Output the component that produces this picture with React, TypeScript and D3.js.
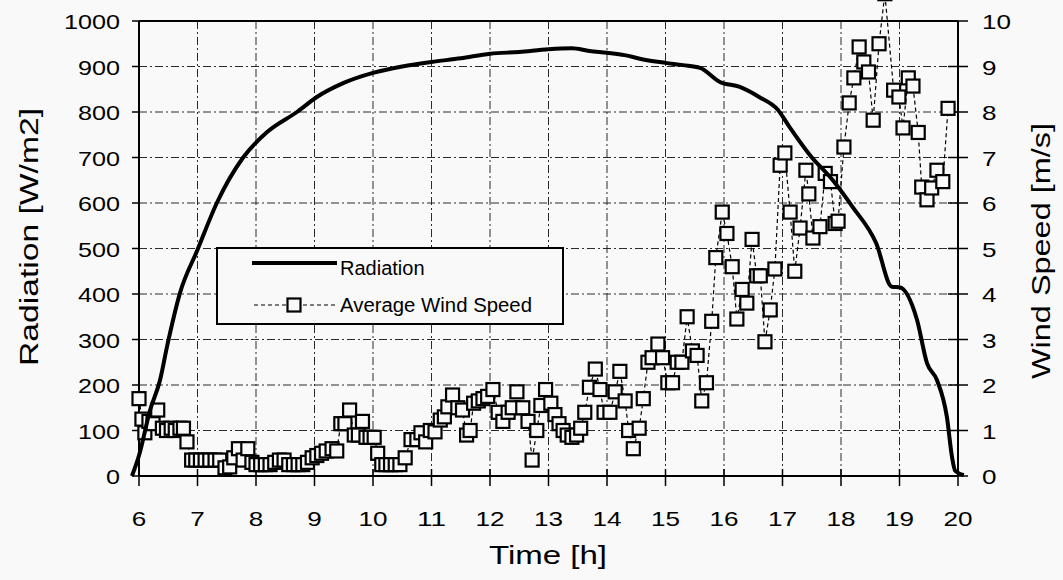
import React from "react";
import * as d3 from "d3";

// ---- Data ----
const radTime = [5.88, 6.0, 6.19, 6.36, 6.48, 6.7, 7.0, 7.33, 7.78, 8.2, 8.7, 9.04, 9.5, 10.0, 10.5, 11.0, 11.5, 12.0, 12.5, 13.0, 13.4, 13.7, 14.0, 14.3, 14.6, 15.0, 15.3, 15.59, 15.93, 16.27, 16.6, 16.92, 17.13, 17.47, 17.86, 18.2, 18.6, 18.87, 19.0, 19.3, 19.47, 19.64, 19.81, 19.9, 19.95, 20.1];
const radValue = [0, 45, 145, 211, 285, 402, 497, 600, 700, 757, 800, 833, 864, 886, 900, 910, 918, 928, 932, 938, 940, 934, 930, 925, 916, 908, 903, 897, 866, 855, 833, 805, 765, 705, 650, 591, 512, 416, 415, 343, 248, 211, 130, 40, 12, 2];

const windTime = [6.0, 6.05, 6.1, 6.17, 6.24, 6.32, 6.4, 6.47, 6.55, 6.62, 6.7, 6.76, 6.82, 6.9, 6.97, 7.05, 7.13, 7.21, 7.3, 7.38, 7.47, 7.55, 7.62, 7.7, 7.78, 7.86, 7.93, 8.0, 8.08, 8.16, 8.24, 8.32, 8.4, 8.48, 8.56, 8.64, 8.72, 8.8, 8.88, 8.96, 9.04, 9.12, 9.2, 9.3, 9.38, 9.45, 9.52, 9.6, 9.68, 9.75, 9.82, 9.88, 9.95, 10.02, 10.08, 10.15, 10.22, 10.3, 10.38, 10.46, 10.55, 10.65, 10.75, 10.82, 10.9, 10.98, 11.06, 11.15, 11.22, 11.28, 11.36, 11.45, 11.53, 11.6, 11.66, 11.72, 11.8, 11.88, 11.96, 12.05, 12.14, 12.22, 12.31, 12.38, 12.46, 12.56, 12.65, 12.72, 12.8, 12.87, 12.95, 13.04, 13.11, 13.18, 13.25, 13.32, 13.4, 13.48, 13.55, 13.62, 13.7, 13.8, 13.88, 13.95, 14.05, 14.14, 14.22, 14.31, 14.37, 14.45, 14.55, 14.62, 14.7, 14.77, 14.87, 14.95, 15.04, 15.12, 15.2, 15.28, 15.37, 15.46, 15.54, 15.62, 15.7, 15.79, 15.86, 15.97, 16.05, 16.14, 16.22, 16.31, 16.39, 16.48, 16.56, 16.62, 16.7, 16.79, 16.87, 16.96, 17.04, 17.13, 17.21, 17.3, 17.4, 17.45, 17.52, 17.64, 17.73, 17.82, 17.9, 17.95, 18.05, 18.14, 18.22, 18.31, 18.39, 18.47, 18.55, 18.65, 18.75, 18.9, 18.99, 19.06, 19.15, 19.23, 19.32, 19.38, 19.47, 19.55, 19.64, 19.74, 19.83];
const windSpeed = [1.7, 1.25, 0.95, 1.2, 1.15, 1.45, 1.05, 1.0, 1.05, 1.0, 1.05, 1.05, 0.75, 0.35, 0.35, 0.35, 0.35, 0.35, 0.35, 0.35, 0.18, 0.2, 0.4, 0.6, 0.35, 0.6, 0.3, 0.25, 0.25, 0.25, 0.25, 0.3, 0.35, 0.35, 0.25, 0.25, 0.25, 0.25, 0.3, 0.4, 0.45, 0.5, 0.55, 0.6, 0.55, 1.15, 1.15, 1.45, 0.9, 0.9, 1.2, 0.85, 0.85, 0.85, 0.5, 0.25, 0.25, 0.25, 0.25, 0.25, 0.4, 0.8, 0.8, 0.95, 0.75, 1.0, 0.97, 1.23, 1.3, 1.52, 1.78, 1.5, 1.45, 0.9, 1.0, 1.6, 1.65, 1.7, 1.75, 1.9, 1.4, 1.2, 1.4, 1.5, 1.85, 1.5, 1.2, 0.35, 1.0, 1.55, 1.9, 1.6, 1.35, 1.15, 1.0, 0.9, 0.85, 0.9, 1.05, 1.4, 1.95, 2.35, 1.9, 1.4, 1.4, 1.85, 2.3, 1.65, 1.0, 0.6, 1.05, 1.7, 2.5, 2.6, 2.9, 2.6, 2.05, 2.05, 2.5, 2.5, 3.5, 2.75, 2.65, 1.65, 2.05, 3.4, 4.8, 5.8, 5.33, 4.6, 3.45, 4.1, 3.8, 5.2, 4.4, 4.4, 2.95, 3.65, 4.55, 6.83, 7.1, 5.8, 4.5, 5.45, 6.72, 6.2, 5.23, 5.48, 6.65, 6.47, 5.55, 5.6, 7.23, 8.2, 8.75, 9.43, 9.1, 8.88, 7.82, 9.5, 10.6, 8.48, 8.33, 7.65, 8.75, 8.57, 7.55, 6.35, 6.07, 6.33, 6.72, 6.47, 8.08];

const xTicks = [6, 7, 8, 9, 10, 11, 12, 13, 14, 15, 16, 17, 18, 19, 20];
const radTicks = [0, 100, 200, 300, 400, 500, 600, 700, 800, 900, 1000];
const windTicks = [0, 1, 2, 3, 4, 5, 6, 7, 8, 9, 10];

const FONT = "'Liberation Sans', Arial, sans-serif";

export default function App() {
  const W = 1063, H = 580;
  const x = d3.scaleLinear().domain([6, 20]).range([139, 958]);
  const yR = d3.scaleLinear().domain([0, 1000]).range([476, 21]);
  const yW = d3.scaleLinear().domain([0, 10]).range([476, 21]);
  const [xl, xr] = x.range();
  const [yb, yt] = yR.range();

  const radPts: [number, number][] = radTime.map((t, i) => [t, radValue[i]]);
  const windPts: [number, number][] = windTime.map((t, i) => [t, windSpeed[i]]);

  const radLine = d3.line<[number, number]>().x(d => x(d[0])).y(d => yR(d[1])).curve(d3.curveMonotoneX)(radPts) || "";
  const windLine = d3.line<[number, number]>().x(d => x(d[0])).y(d => yW(d[1]))(windPts) || "";

  const grid = "#2a2a2a";
  const ms = 13;

  return (
    <div style={{ position: "absolute", left: 0, top: 0 }}>
      <svg width={W} height={H} style={{ display: "block" }} fontFamily={FONT}>
        <rect x={0} y={0} width={W} height={H} fill="#f9f9f9" />
        {/* grid */}
        {radTicks.filter(v => v > 0 && v < 1000).map(v => (
          <line key={"hg" + v} x1={xl} x2={xr} y1={yR(v)} y2={yR(v)} stroke={grid} strokeWidth={1} strokeDasharray="8,3,2,3" />
        ))}
        {xTicks.filter(t => t > 6 && t < 20).map(t => (
          <line key={"vg" + t} x1={x(t)} x2={x(t)} y1={yt} y2={yb} stroke={grid} strokeWidth={1} strokeDasharray="8,3,2,3" />
        ))}
        {/* frame */}
        <line x1={xl} x2={xr} y1={yt} y2={yt} stroke="#000" strokeWidth={2} />
        <line x1={xl} x2={xr} y1={yb} y2={yb} stroke="#000" strokeWidth={2} />
        <line x1={xl} x2={xl} y1={yt} y2={yb} stroke="#000" strokeWidth={2} />
        <line x1={xr} x2={xr} y1={yt} y2={yb} stroke="#000" strokeWidth={2} />
        {/* ticks */}
        {radTicks.map(v => (
          <g key={"lt" + v}>
            <line x1={xl - 7} x2={xl} y1={yR(v)} y2={yR(v)} stroke="#000" strokeWidth={1.5} />
            <text x={120} y={yR(v) + 8} textAnchor="end" fontSize={21} textLength={String(v).length * 14} lengthAdjust="spacingAndGlyphs" fill="#000">{v}</text>
          </g>
        ))}
        {windTicks.map(v => (
          <g key={"rt" + v}>
            <line x1={xr - 10} x2={xr + 10} y1={yW(v)} y2={yW(v)} stroke="#000" strokeWidth={1.5} />
            <text x={982} y={yW(v) + 8} textAnchor="start" fontSize={21} textLength={String(v).length * 14.5} lengthAdjust="spacingAndGlyphs" fill="#000">{v}</text>
          </g>
        ))}
        {xTicks.map(t => (
          <g key={"bt" + t}>
            <line x1={x(t)} x2={x(t)} y1={yb - 7} y2={yb + 10} stroke="#000" strokeWidth={1.5} />
            <text x={x(t)} y={526} textAnchor="middle" fontSize={21} textLength={String(t).length * 14.5} lengthAdjust="spacingAndGlyphs" fill="#000">{t}</text>
          </g>
        ))}
        {/* titles */}
        <text transform="translate(38,237) rotate(-90)" textAnchor="middle" fontSize={25} textLength={258} lengthAdjust="spacingAndGlyphs" fill="#000">Radiation [W/m2]</text>
        <text transform="translate(1050,251) rotate(-90)" textAnchor="middle" fontSize={25} textLength={256} lengthAdjust="spacingAndGlyphs" fill="#000">Wind Speed [m/s]</text>
        <text x={548} y={564} textAnchor="middle" fontSize={25} textLength={118} lengthAdjust="spacingAndGlyphs" fill="#000">Time [h]</text>
        {/* wind series */}
        <path d={windLine} fill="none" stroke="#000" strokeWidth={1.2} strokeDasharray="4,3" />
        {windPts.map((d, i) => (
          <rect key={"w" + i} x={x(d[0]) - ms / 2} y={yW(d[1]) - ms / 2} width={ms} height={ms} fill="#f9f9f9" stroke="#000" strokeWidth={2.2} />
        ))}
        {/* radiation */}
        <path d={radLine} fill="none" stroke="#000" strokeWidth={4} strokeLinejoin="round" />
        {/* legend */}
        <rect x={217} y={248} width={346} height={76} fill="#f9f9f9" stroke="#000" strokeWidth={2} />
        <line x1={252} x2={337} y1={263} y2={263} stroke="#000" strokeWidth={4} />
        <text x={340} y={275} fontSize={20} fill="#000">Radiation</text>
        <line x1={254} x2={335} y1={305} y2={305} stroke="#000" strokeWidth={1.2} strokeDasharray="4,3" />
        <rect x={294 - ms / 2} y={305 - ms / 2} width={ms} height={ms} fill="#f9f9f9" stroke="#000" strokeWidth={2.2} />
        <text x={340} y={312} fontSize={20} textLength={192} lengthAdjust="spacingAndGlyphs" fill="#000">Average Wind Speed</text>
      </svg>
    </div>
  );
}
